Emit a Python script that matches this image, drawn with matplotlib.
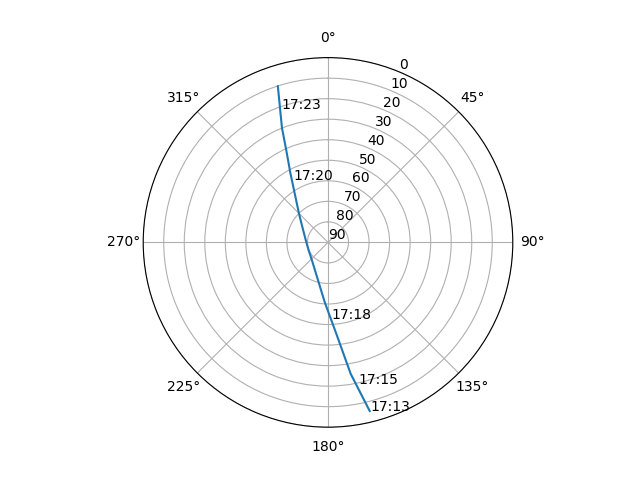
import numpy as np
import matplotlib
matplotlib.use("Agg")
import matplotlib.pyplot as plt

# satellite pass track (azimuth deg, elevation deg)
track_az = [166.1, 170.2, 174.8, 183.1, 194.5, 222.8, 246.9, 274.6, 300.7, 314.6, 331.6, 335.5, 338.1, 342.2]
track_el = [5.4, 25.0, 45.3, 60.8, 70.8, 78.4, 79.8, 79.2, 75.5, 70.2, 51.4, 41.2, 29.9, 10.1]

# time labels along the track
label_text = ["17:13", "17:15", "17:18", "17:20", "17:23"]
label_az = [166.0, 167.8, 177.5, 330.7, 340.9]
label_el = [5.3, 19.4, 52.7, 55.2, 21.1]

fig = plt.figure(figsize=(6.4, 4.8), dpi=100)
ax = fig.add_subplot(111, projection="polar")
ax.set_theta_zero_location("N")
ax.set_theta_direction(-1)

ax.plot(np.radians(track_az), track_el)
for t, a, e in zip(label_text, label_az, label_el):
    ax.text(np.radians(a), e, t)

ax.set_rlim(90, 0)
ax.set_rticks(list(range(0, 91, 10)))
ax.grid(True)

fig.savefig("out.png", dpi=100)
